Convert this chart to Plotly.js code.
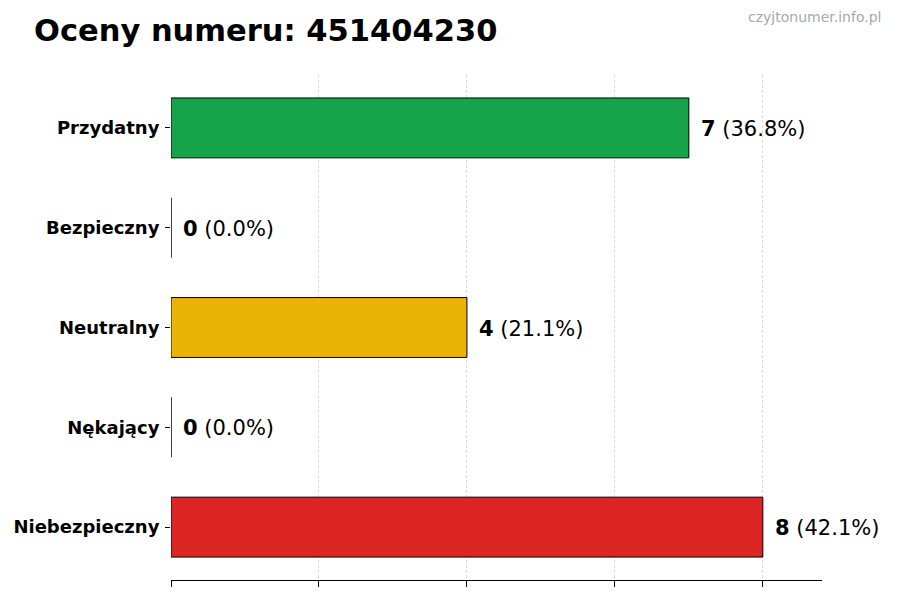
<!DOCTYPE html>
<html>
<head>
<meta charset="utf-8">
<script src="https://cdn.plot.ly/plotly-3.0.1.min.js"></script>
<style>
  html, body { margin: 0; padding: 0; background: #fff; }
  #plotarea { width: 900px; height: 600px; }
</style>
</head>
<body>
<div id="plotarea"></div>
<script>
// data, top to bottom as in the picture
let categories = ['Przydatny', 'Bezpieczny', 'Neutralny', 'Nękający', 'Niebezpieczny'];
let counts = [7, 0, 4, 0, 8];
let colors = ['#16a34a', '#9ca3af', '#eab308', '#f97316', '#dc2626'];
let xticks = [0, 2, 4, 6, 8];

let total = counts.reduce((a, b) => a + b, 0);

let trace = {
    type: 'bar',
    orientation: 'h',
    x: counts,
    y: categories,
    width: 0.6,
    marker: {
        color: colors,
        line: {color: '#000', width: 1}
    },
    hoverinfo: 'none'
};

let annotations = [];
for(let i = 0; i < categories.length; i++){
    let pct = (100 * counts[i] / total).toFixed(1);
    annotations.push({
        x: counts[i], y: categories[i],
        xref: 'x', yref: 'y',
        text: '<b>' + counts[i] + '</b> (' + pct + '%)',
        showarrow: false,
        xanchor: 'left', yanchor: 'middle',
        xshift: 10, yshift: -1,
        font: {size: 21, color: '#000', family: 'DejaVu Sans'}
    });
}
// watermark
annotations.push({
    x: 1.0, y: 1.0,
    xref: 'paper', yref: 'paper',
    text: 'czyjtonumer.info.pl',
    showarrow: false,
    xanchor: 'right', yanchor: 'middle',
    xshift: 712 - 651, yshift: 563 - 505,
    font: {size: 14, color: '#a8a8a8', family: 'DejaVu Sans'}
});

let layout = {
    width: 900, height: 600,
    margin: {l: 171, r: 78, t: 75, b: 20},
    paper_bgcolor: '#fff',
    plot_bgcolor: '#fff',
    font: {family: 'DejaVu Sans', color: '#000'},
    title: {
        text: '<b>Oceny numeru: 451404230</b>',
        x: 34 / 900, xref: 'container', xanchor: 'left',
        y: 1 - 30 / 600, yref: 'container', yanchor: 'middle',
        font: {size: 30.5, color: '#000', family: 'DejaVu Sans'}
    },
    xaxis: {
        range: [0, 8.8],
        tickvals: xticks,
        ticktext: xticks.map(() => ''),
        ticks: 'outside', ticklen: 6, tickcolor: '#000', tickwidth: 1,
        showline: true, linecolor: '#000', linewidth: 1,
        showgrid: true, gridcolor: '#dcdcdc', griddash: '3px,2px', gridwidth: 1,
        zeroline: false,
        fixedrange: true
    },
    yaxis: {
        type: 'category',
        range: [4.53, -0.53],
        ticks: 'outside', ticklen: 5, tickcolor: '#000', tickwidth: 1,
        showline: false, showgrid: false, zeroline: false,
        tickfont: {size: 18, family: 'DejaVu Sans', color: '#000'},
        ticklabelstandoff: 2,
        fixedrange: true
    },
    annotations: annotations,
    showlegend: false,
    bargap: 0.4
};

// bold tick labels
layout.yaxis.tickvals = categories;
layout.yaxis.ticktext = categories.map(c => '<b>' + c + '</b>');

Plotly.newPlot('plotarea', [trace], layout, {displayModeBar: false, staticPlot: true});
</script>
</body>
</html>
